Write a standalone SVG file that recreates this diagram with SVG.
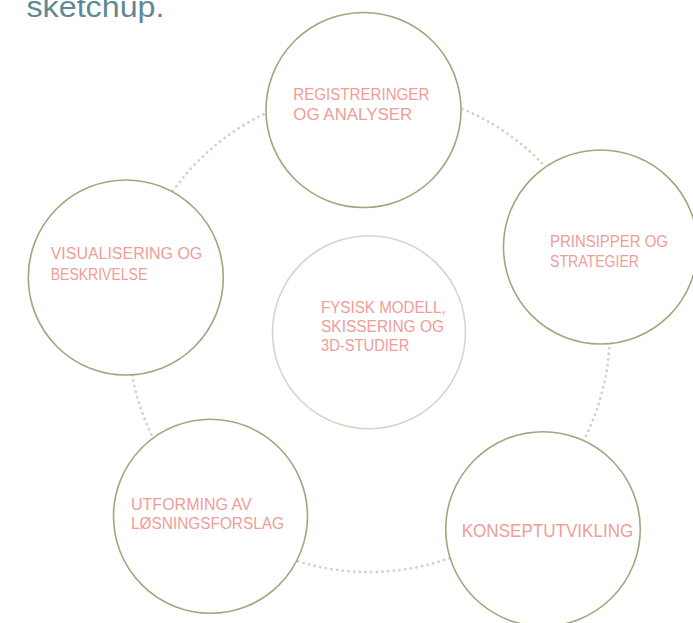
<svg xmlns="http://www.w3.org/2000/svg" width="693" height="623" viewBox="0 0 693 623">
<style>
.node{fill:#ffffff;stroke:#a4a57f;stroke-width:1.6}
.core{fill:#ffffff;stroke:#d6d6c8;stroke-width:1.6}
.lbl{font-family:"Liberation Sans",Arial,sans-serif;font-size:16px;fill:#ef9d97}
.ring{fill:none;stroke:#d3d5c3;stroke-width:2.8;stroke-linecap:round;stroke-dasharray:0.1 5.6}
.title{font-family:"Liberation Sans",Arial,sans-serif;font-size:30px;fill:#5f8a95}
</style>
<rect width="693" height="623" fill="#ffffff"/>
<text class="title" x="26.5" y="16.5" textLength="138" lengthAdjust="spacingAndGlyphs">sketchup.</text>
<g id="connectors">
<circle class="ring" cx="369" cy="331" r="241"/>
</g>
<g id="node-registreringer">
<circle class="node" cx="363.5" cy="110" r="97.5"/>
<text class="lbl" x="293.3" y="100" textLength="136" lengthAdjust="spacingAndGlyphs">REGISTRERINGER</text>
<text class="lbl" x="293.3" y="120" textLength="119" lengthAdjust="spacingAndGlyphs">OG ANALYSER</text>
</g>
<g id="node-prinsipper">
<circle class="node" cx="600.5" cy="247" r="97"/>
<text class="lbl" x="550" y="246.7" textLength="118" lengthAdjust="spacingAndGlyphs">PRINSIPPER OG</text>
<text class="lbl" x="550" y="266.7" textLength="89" lengthAdjust="spacingAndGlyphs">STRATEGIER</text>
</g>
<g id="node-konsept">
<circle class="node" cx="543" cy="529" r="97.3"/>
<text class="lbl" x="461.7" y="536.7" style="font-size:18.5px" textLength="171.6" lengthAdjust="spacingAndGlyphs">KONSEPTUTVIKLING</text>
</g>
<g id="node-utforming">
<circle class="node" cx="210.5" cy="516.3" r="97"/>
<text class="lbl" x="131" y="510" textLength="120.7" lengthAdjust="spacingAndGlyphs">UTFORMING AV</text>
<text class="lbl" x="131" y="529.3" textLength="153" lengthAdjust="spacingAndGlyphs">LØSNINGSFORSLAG</text>
</g>
<g id="node-visualisering">
<circle class="node" cx="125.8" cy="277.5" r="97.5"/>
<text class="lbl" x="50.7" y="259.3" textLength="151.6" lengthAdjust="spacingAndGlyphs">VISUALISERING OG</text>
<text class="lbl" x="50.7" y="280" textLength="96.6" lengthAdjust="spacingAndGlyphs">BESKRIVELSE</text>
</g>
<g id="node-fysisk">
<circle class="core" cx="369" cy="332.3" r="96.5"/>
<text class="lbl" x="321" y="312.7" textLength="124.7" lengthAdjust="spacingAndGlyphs">FYSISK MODELL,</text>
<text class="lbl" x="321" y="331.5" textLength="123" lengthAdjust="spacingAndGlyphs">SKISSERING OG</text>
<text class="lbl" x="321" y="350.7" textLength="88.3" lengthAdjust="spacingAndGlyphs">3D-STUDIER</text>
</g>
</svg>
